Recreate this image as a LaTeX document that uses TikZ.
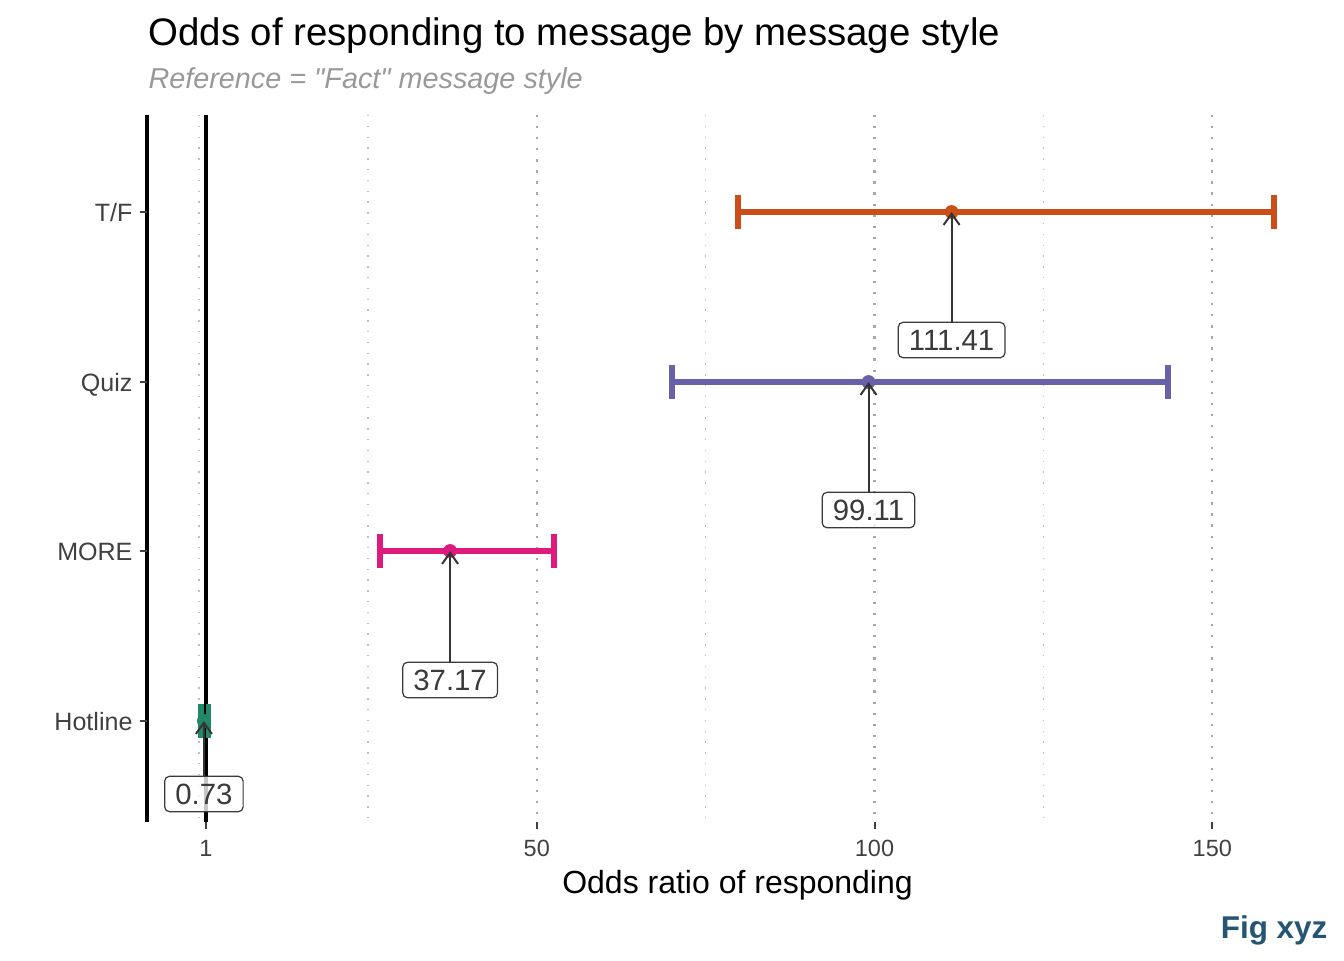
\documentclass[tikz,border=0pt]{standalone}
\usepackage{fontspec}
\setmainfont{Liberation Sans}[Ligatures=TeXOff]
\usetikzlibrary{arrows.meta}
\definecolor{cTF}{HTML}{CB4D17}
\definecolor{cQuiz}{HTML}{6661A8}
\definecolor{cMore}{HTML}{DE1A7E}
\definecolor{cHot}{HTML}{21896A}
\definecolor{gridmaj}{HTML}{A8A8A8}
\definecolor{gridmin}{HTML}{BEBEBE}
\definecolor{ticktxt}{HTML}{404040}
\definecolor{subtxt}{HTML}{999999}
\definecolor{figblue}{RGB}{36,85,115}
\definecolor{labtxt}{HTML}{3A3A3A}
\tikzset{
  majgrid/.style={gridmaj, line width=0.85pt, dash pattern=on 0.85pt off 3.3pt},
  mingrid/.style={gridmin, line width=0.55pt, dash pattern=on 0.55pt off 3.5pt},
  ytick/.style={font=\fontsize{9.4}{11}\selectfont, text=ticktxt, anchor=base east, inner sep=0pt},
  xtick/.style={font=\fontsize{8.8}{10}\selectfont, text=ticktxt, anchor=base, inner sep=0pt},
  tickmark/.style={ticktxt, line width=0.75pt},
  ebar/.style={line width=2pt},
  ecap/.style={line width=2.2pt},
  pt/.style={circle, inner sep=0pt, minimum size=5.2pt},
  lab/.style={draw=labtxt, line width=0.45pt, rounded corners=1.8pt, fill=white, fill opacity=0.78, text opacity=1,
    font=\fontsize{11}{13}\selectfont, text=labtxt, text height=7.9pt, text depth=0pt, inner ysep=2.7pt, inner xsep=4pt},
  arr/.style={draw=labtxt!90!black, line width=0.75pt, -{Straight Barb[length=4.2pt,width=6pt]}},
}
\begin{document}
\begin{tikzpicture}[x=0.375pt,y=-0.375pt]
\useasboundingbox (0,0) rectangle (1344,960);
% titles
\node[anchor=base west, inner sep=0pt, font=\fontsize{14.4}{16}\selectfont] (title) at (148,45) {Odds of responding to message by message style};
\node[anchor=base west, inner sep=0pt, font=\fontsize{10.8}{13}\selectfont\itshape, text=subtxt] (subtitle) at (148,88) {Reference = "Fact" message style};
% grid
\draw[mingrid] (199,115) -- (199,822);
\draw[mingrid] (367.9,115) -- (367.9,822);
\draw[mingrid] (705.6,115) -- (705.6,822);
\draw[mingrid] (1043.4,115) -- (1043.4,822);
\draw[majgrid] (536.75,115) -- (536.75,822);
\draw[majgrid] (874.5,115) -- (874.5,822);
\draw[majgrid] (1212.3,115) -- (1212.3,822);
% y axis
\draw[black, line width=1.15pt] (147,115) -- (147,822);
\coordinate (yTF) at (147,212);
\coordinate (yQuiz) at (147,382);
\coordinate (yMore) at (147,551);
\coordinate (yHot) at (147,721);
\foreach \c in {yTF,yQuiz,yMore,yHot}{\draw[tickmark] (\c) -- ++(-7,0);}
\node[ytick] (lTF) at (133,221) {T/F};
\node[ytick] (lQuiz) at (133,391) {Quiz};
\node[ytick] (lMore) at (133,560) {MORE};
\node[ytick] (lHot) at (133,730) {Hotline};
% x ticks
\foreach \x/\t/\n in {205.8/1/a,536.75/50/b,874.5/100/c,1212.3/150/d}{
  \draw[tickmark] (\x,822) -- (\x,829);
  \node[xtick] (xt\n) at (\x,856) {\t};
}
\node[anchor=base, inner sep=0pt, font=\fontsize{12}{14}\selectfont] (xtitle) at (737.5,893) {Odds ratio of responding};
% reference line at 1
\draw[black, line width=1.5pt] (205.8,115) -- (205.8,822);
% error bars
\coordinate (tfL) at (738,212); \coordinate (tfR) at (1274,212); \coordinate (tfP) at (951.6,212);
\coordinate (qzL) at (672,382); \coordinate (qzR) at (1168,382); \coordinate (qzP) at (868.5,382);
\coordinate (mrL) at (380,551); \coordinate (mrR) at (554,551); \coordinate (mrP) at (450.1,551);
\coordinate (htL) at (201,721); \coordinate (htR) at (208.5,721); \coordinate (htP) at (203.9,721);
\foreach \L/\R/\P/\col in {tfL/tfR/tfP/cTF, qzL/qzR/qzP/cQuiz, mrL/mrR/mrP/cMore, htL/htR/htP/cHot}{
  \draw[\col, ebar] (\L) -- (\R);
  \draw[\col, ecap] ([yshift=-6.3pt]\L) -- ([yshift=6.3pt]\L);
  \draw[\col, ecap] ([yshift=-6.3pt]\R) -- ([yshift=6.3pt]\R);
  \node[pt, fill=\col] at (\P) {};
}
% labels and arrows
\node[lab] (vTF) at (951.6,340) {111.41};
\node[lab] (vQuiz) at (868.5,510) {99.11};
\node[lab] (vMore) at (450.1,680) {37.17};
\node[lab] (vHot) at (203.9,794) {0.73};
\draw[arr] (vTF.north) -- (tfP);
\draw[arr] (vQuiz.north) -- (qzP);
\draw[arr] (vMore.north) -- (mrP);
\draw[arr] (vHot.north) -- (htP);
% caption
\node[anchor=base east, inner sep=0pt, font=\fontsize{11.8}{14}\selectfont\bfseries, text=figblue] (cap) at (1328,938) {Fig xyz};
\end{tikzpicture}
\end{document}
